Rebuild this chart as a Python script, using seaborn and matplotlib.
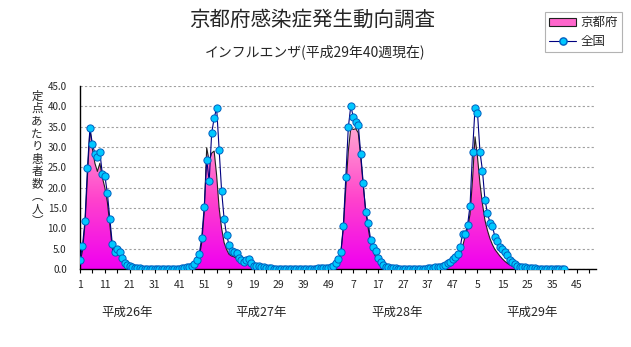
import numpy as np
import pandas as pd
import matplotlib
matplotlib.use("Agg")
import matplotlib.pyplot as plt
import seaborn as sns
from matplotlib.lines import Line2D
from matplotlib.patches import Patch
from matplotlib.colors import LinearSegmentedColormap

sns.set_theme(style="white")
plt.rcParams['font.family'] = ['Noto Sans CJK JP', 'DejaVu Sans']

# --- data: weekly cases per sentinel site, 52 weeks per year ---
week_tick_labels = ["1", "11", "21", "31", "41", "51", "9", "19", "29", "39", "49",
                    "7", "17", "27", "37", "47", "5", "15", "25", "35", "45"]
year_labels = ["平成26年", "平成27年", "平成28年", "平成29年"]

national_h26 = [2.2, 5.7, 11.8, 24.9, 34.7, 30.7, 28.4, 27.5, 28.7, 23.3,
                22.9, 18.7, 12.4, 6.2, 4.2, 4.8, 4.3, 2.8, 1.5, 1.1,
                0.7, 0.4, 0.3, 0.2, 0.2, 0.1, 0.1, 0.1, 0.1, 0.1,
                0.1, 0.1, 0.1, 0.1, 0.1, 0.1, 0.1, 0.1, 0.1, 0.1,
                0.1, 0.2, 0.3, 0.4, 0.5, 0.7, 1.2, 2.1, 3.7, 7.7,
                15.2, 26.9]
national_h27 = [21.6, 33.4, 37.1, 39.6, 29.3, 19.2, 12.4, 8.4, 5.9, 4.4,
                4.1, 3.9, 2.8, 2.2, 1.8, 2.2, 2.4, 1.4, 0.8, 0.8,
                0.7, 0.5, 0.4, 0.3, 0.2, 0.2, 0.1, 0.1, 0.1, 0.1,
                0.1, 0.1, 0.1, 0.1, 0.1, 0.1, 0.1, 0.1, 0.1, 0.1,
                0.1, 0.1, 0.1, 0.1, 0.2, 0.2, 0.3, 0.3, 0.3, 0.5,
                0.7, 1.4]
national_h28 = [2.5, 4.1, 10.6, 22.6, 34.8, 40.1, 37.4, 36.2, 35.5, 28.3,
                21.1, 14.0, 11.3, 7.2, 5.5, 4.5, 2.8, 1.6, 1.0, 0.6,
                0.4, 0.3, 0.2, 0.2, 0.1, 0.1, 0.1, 0.1, 0.1, 0.1,
                0.1, 0.1, 0.1, 0.1, 0.1, 0.1, 0.2, 0.2, 0.3, 0.4,
                0.5, 0.6, 0.7, 1.0, 1.4, 1.7, 2.4, 3.0, 3.7, 5.3,
                8.6, 8.6]
national_h29 = [10.8, 15.6, 28.8, 39.6, 38.4, 28.8, 24.2, 17.0, 13.8, 11.4,
                10.6, 7.9, 7.0, 5.5, 4.8, 4.3, 3.4, 2.3, 1.6, 1.2,
                0.8, 0.6, 0.5, 0.4, 0.3, 0.3, 0.2, 0.2, 0.1, 0.1,
                0.1, 0.1, 0.1, 0.1, 0.1, 0.1, 0.1, 0.1, 0.1, 0.1]

kyoto_h26 = [1.5, 4.5, 11.0, 23.0, 34.5, 29.5, 26.0, 24.0, 26.0, 22.5,
             20.0, 16.5, 11.0, 5.0, 3.5, 3.8, 3.2, 2.2, 1.2, 0.7,
             0.4, 0.2, 0.1, 0.0, 0.0, 0.0, 0.0, 0.0, 0.0, 0.0,
             0.0, 0.0, 0.0, 0.0, 0.0, 0.0, 0.0, 0.0, 0.0, 0.0,
             0.0, 0.1, 0.1, 0.2, 0.3, 0.6, 1.0, 1.8, 3.0, 6.5,
             14.0, 29.8]
kyoto_h27 = [26.5, 28.5, 29.0, 23.0, 15.0, 10.0, 6.5, 4.8, 3.6, 3.2,
             3.0, 2.6, 2.2, 1.8, 2.2, 2.6, 1.8, 1.0, 0.6, 0.4,
             0.3, 0.2, 0.1, 0.0, 0.0, 0.0, 0.0, 0.0, 0.0, 0.0,
             0.0, 0.0, 0.0, 0.0, 0.0, 0.0, 0.0, 0.0, 0.0, 0.0,
             0.0, 0.0, 0.0, 0.0, 0.0, 0.1, 0.1, 0.1, 0.1, 0.2,
             0.3, 0.6]
kyoto_h28 = [1.5, 4.0, 10.0, 20.0, 29.0, 34.7, 34.3, 34.5, 33.5, 27.5,
             20.5, 14.5, 10.0, 6.5, 4.5, 3.0, 1.8, 1.0, 0.6, 0.4,
             0.3, 0.2, 0.1, 0.0, 0.0, 0.0, 0.0, 0.0, 0.0, 0.0,
             0.0, 0.0, 0.0, 0.0, 0.0, 0.0, 0.0, 0.1, 0.1, 0.2,
             0.2, 0.3, 0.4, 0.5, 0.7, 1.0, 1.3, 1.8, 2.5, 3.5,
             5.5, 8.0]
kyoto_h29 = [10.0, 13.5, 22.0, 32.5, 27.5, 21.0, 16.0, 12.0, 9.5, 7.5,
             6.0, 4.8, 4.0, 3.2, 2.5, 1.9, 1.4, 1.0, 0.7, 0.5,
             0.3, 0.2, 0.1, 0.0, 0.0, 0.0, 0.0, 0.0, 0.0, 0.0,
             0.0, 0.0, 0.0, 0.0, 0.0, 0.0, 0.0, 0.0, 0.0, 0.0]

national = national_h26 + national_h27 + national_h28 + national_h29
kyoto = kyoto_h26 + kyoto_h27 + kyoto_h28 + kyoto_h29
weeks_per_year = 52
n_slots = 4 * weeks_per_year

df = pd.DataFrame({"週": np.arange(len(national)), "全国": national, "京都府": kyoto})

# --- figure layout (pixel geometry for a 631x347 canvas) ---
W, H = 631, 347
fig = plt.figure(figsize=(W / 100, H / 100), dpi=100)
fig.patch.set_facecolor("white")
ax_left, ax_right, ax_top, ax_bottom = 80, 595.5, 86, 269
ax = fig.add_axes([ax_left / W, 1 - ax_bottom / H,
                   (ax_right - ax_left) / W, (ax_bottom - ax_top) / H])
ax.set_facecolor("white")

# Kyoto: gradient-filled area with a thin dark outline
area = ax.fill_between(df["週"], df["京都府"], 0, facecolor="none", edgecolor="none", zorder=2)
grad = np.linspace(0, 1, 256).reshape(-1, 1)
pink = LinearSegmentedColormap.from_list("pink_grad", ["#F000F0", "#FF44CC", "#FFA6D2"])
img = ax.imshow(grad, extent=(0, n_slots, 0, max(kyoto)), origin="lower",
                aspect="auto", cmap=pink, zorder=2, interpolation="bilinear")
img.set_clip_path(area.get_paths()[0], transform=ax.transData)
sns.lineplot(data=df, x="週", y="京都府", ax=ax, color="#202020", lw=0.8, zorder=3)

# National: navy line with cyan circle markers
sns.lineplot(data=df, x="週", y="全国", ax=ax, color="#000080", lw=0.8, marker="o",
             markersize=5.2, markerfacecolor="#00C8FF", markeredgecolor="#0060C0",
             markeredgewidth=0.7, zorder=4)

ax.set_xlim(0, n_slots - 0.5)
ax.set_ylim(0, 45)

# axes, ticks and grid
for side in ["top", "right"]:
    ax.spines[side].set_visible(False)
for side in ["left", "bottom"]:
    ax.spines[side].set_color("black")
    ax.spines[side].set_linewidth(1.0)
ax.set_xticks(np.arange(0, 10 * len(week_tick_labels), 10))
ax.set_xticklabels(week_tick_labels, fontsize=7.5)
ax.set_xticks(np.arange(0, n_slots, 5), minor=True)
ax.tick_params(axis="x", which="both", direction="out", length=3, width=0.8,
               color="black", pad=5, bottom=True)
ax.set_yticks(np.arange(0, 46, 5))
ax.set_yticklabels([f"{v:.1f}" for v in np.arange(0, 46, 5)], fontsize=7)
ax.tick_params(axis="y", which="both", length=0, pad=9.5, left=True)
ax.yaxis.grid(True, color="#A0A0A0", linestyle=(0, (2, 2)), linewidth=0.8)
ax.xaxis.grid(False)
ax.set_axisbelow(True)
ax.set_xlabel("")
ax.set_ylabel("")

# year captions under the week labels
year_x = [19, 73, 127.5, 182]
for xpos, label in zip(year_x, year_labels):
    ax.text(xpos, -10.6, label, ha="center", va="center", fontsize=9, clip_on=False)

# vertical y-axis caption, one character per line
ylabel_chars = ["定", "点", "あ", "た", "り", "患", "者", "数", "︵", "人", "︶"]
for k, ch in enumerate(ylabel_chars):
    fig.text(37 / W, 1 - (96 + k * 12.6) / H, ch, ha="center", va="center", fontsize=8.3)

# titles
fig.text(312 / W, 1 - 20 / H, "京都府感染症発生動向調査", ha="center", va="center", fontsize=14.8)
fig.text(315 / W, 1 - 52 / H, "インフルエンザ(平成29年40週現在)", ha="center", va="center", fontsize=10)

# legend box in the upper-right corner
handles = [Patch(facecolor="#FF66CC", edgecolor="#202020", linewidth=0.8, label="京都府"),
           Line2D([0], [0], color="#000080", lw=0.8, marker="o", markersize=5.2,
                  markerfacecolor="#00C8FF", markeredgecolor="#0060C0", label="全国")]
leg = fig.legend(handles=handles, loc="upper right", bbox_to_anchor=(622 / W, 1 - 12 / H),
                 frameon=True, fancybox=False, edgecolor="#A0A0A0", fontsize=9,
                 handlelength=2.2, handleheight=0.6, handletextpad=0.3,
                 borderpad=0.35, labelspacing=0.45, borderaxespad=0)
leg.get_frame().set_linewidth(0.8)

fig.savefig("out.png", dpi=100, facecolor="white")
